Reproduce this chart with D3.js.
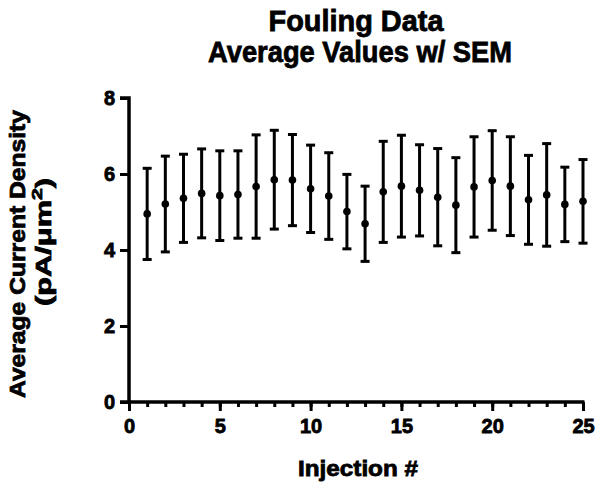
<!DOCTYPE html>
<html><head><meta charset="utf-8">
<script src="https://cdn.jsdelivr.net/npm/d3@7"></script>
<style>body{margin:0;background:#fff}text{font-family:"Liberation Sans",Arial,sans-serif;font-weight:bold;fill:#000;stroke:#000;stroke-width:0.8px}</style>
</head><body><svg id="c" width="601" height="488"></svg>
<script>
const injections = d3.range(1, 26);
const means = [4.95,5.21,5.36,5.49,5.43,5.46,5.67,5.85,5.84,5.61,5.42,5.01,4.69,5.53,5.68,5.57,5.39,5.18,5.66,5.83,5.68,5.32,5.45,5.20,5.28];
const sems  = [1.20,1.26,1.16,1.17,1.18,1.15,1.36,1.30,1.20,1.15,1.14,0.98,0.99,1.33,1.34,1.20,1.28,1.25,1.32,1.31,1.30,1.17,1.35,0.98,1.10];
const xTicks = [0,5,10,15,20,25];
const yTicks = [0,2,4,6,8];
const title = ["Fouling Data","Average Values w/ SEM"];

const svg = d3.select("#c");
const x = d3.scaleLinear().domain([0,25]).range([129,583]);
const y = d3.scaleLinear().domain([0,8]).range([402,98]);
const data = injections.map((d,i)=>({x:d,m:means[i],s:sems[i]}));

// axes
const gx = svg.append("g").attr("transform","translate(0,402)");
gx.call(d3.axisBottom(x).tickValues(d3.range(0,26)).tickSize(5).tickFormat(""));
gx.selectAll(".tick line").attr("stroke-width",3).attr("stroke","#000");
gx.select(".domain").remove();
const gx2 = svg.append("g").attr("transform","translate(0,402)");
gx2.call(d3.axisBottom(x).tickValues(xTicks).tickSize(9).tickPadding(8).tickSizeOuter(0));
gx2.select(".domain").attr("stroke-width",3.5).attr("stroke","#000").attr("d",`M${x(0)-9},0H${x(25)+1.5}`);
gx2.selectAll(".tick line").attr("stroke-width",3).attr("stroke","#000");
gx2.selectAll(".tick text").attr("font-size",20).attr("font-family","Liberation Sans, Arial, sans-serif").attr("font-weight","bold").attr("fill","#000");

const gy = svg.append("g").attr("transform","translate(129,0)");
gy.call(d3.axisLeft(y).tickValues(yTicks).tickSize(9).tickPadding(5).tickSizeOuter(0));
gy.select(".domain").attr("stroke-width",3.5).attr("stroke","#000").attr("d",`M-9,${y(8)}H0V${y(0)+1.5}`);
gy.selectAll(".tick line").attr("stroke-width",3).attr("stroke","#000");
gy.selectAll(".tick text").attr("font-size",20).attr("font-family","Liberation Sans, Arial, sans-serif").attr("font-weight","bold").attr("fill","#000");

// error bars
const eb = svg.append("g").attr("stroke","#000").attr("stroke-width",3);
eb.selectAll("line.v").data(data).join("line").attr("class","v")
  .attr("x1",d=>x(d.x)).attr("x2",d=>x(d.x)).attr("y1",d=>y(d.m+d.s)).attr("y2",d=>y(d.m-d.s));
eb.selectAll("line.t").data(data).join("line").attr("class","t")
  .attr("x1",d=>x(d.x)-4.5).attr("x2",d=>x(d.x)+4.5).attr("y1",d=>y(d.m+d.s)).attr("y2",d=>y(d.m+d.s));
eb.selectAll("line.b").data(data).join("line").attr("class","b")
  .attr("x1",d=>x(d.x)-4.5).attr("x2",d=>x(d.x)+4.5).attr("y1",d=>y(d.m-d.s)).attr("y2",d=>y(d.m-d.s));
svg.append("g").selectAll("circle").data(data).join("circle")
  .attr("cx",d=>x(d.x)).attr("cy",d=>y(d.m)).attr("r",3.8).attr("fill","#000");

// titles
svg.append("text").attr("x",356).attr("y",31).attr("text-anchor","middle").attr("font-size",30)
  .attr("textLength",175).attr("lengthAdjust","spacingAndGlyphs").text(title[0]);
svg.append("text").attr("x",360).attr("y",62).attr("text-anchor","middle").attr("font-size",30)
  .attr("textLength",304).attr("lengthAdjust","spacingAndGlyphs").text(title[1]);
svg.append("text").attr("x",358).attr("y",476).attr("text-anchor","middle").attr("font-size",22)
  .attr("textLength",120).attr("lengthAdjust","spacingAndGlyphs").text("Injection #");
const yl = svg.append("g").attr("transform","translate(0,254) rotate(-90)");
yl.append("text").attr("x",0).attr("y",25).attr("text-anchor","middle").attr("font-size",22)
  .attr("textLength",288).attr("lengthAdjust","spacingAndGlyphs").text("Average Current Density");
const t2 = yl.append("text").attr("x",12).attr("y",51).attr("text-anchor","middle").attr("font-size",22)
  .attr("textLength",128).attr("lengthAdjust","spacingAndGlyphs");
t2.append("tspan").text("(pA/μm");
t2.append("tspan").attr("font-size",15).attr("dy",-9).text("2");
t2.append("tspan").attr("dy",9).text(")");
</script></body></html>
